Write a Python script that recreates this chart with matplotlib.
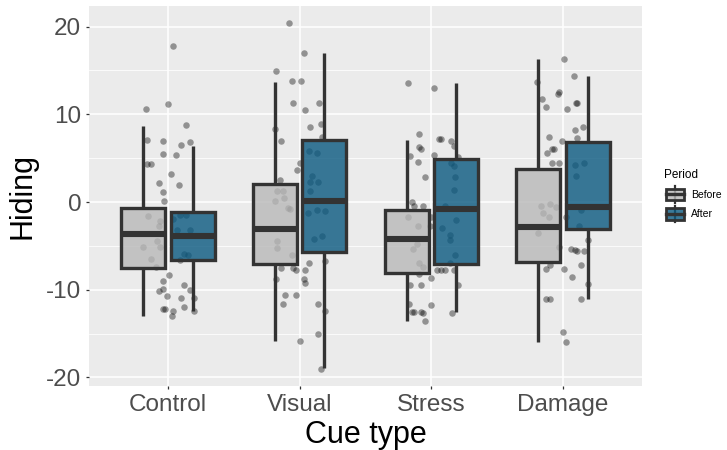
import matplotlib
matplotlib.use("Agg")
import matplotlib.pyplot as plt
import numpy as np
from matplotlib.legend_handler import HandlerBase
from matplotlib.patches import Rectangle, Patch
from matplotlib.lines import Line2D

plt.rcParams["font.family"] = ["Liberation Sans", "DejaVu Sans"]

# box summaries (Hiding score)
cues = ["Control", "Visual", "Stress", "Damage"]
before_lo = [-12.96, -15.8, -13.57, -16.0]
before_q1 = [-7.56, -7.1, -8.06, -6.88]
before_med = [-3.68, -3.04, -4.22, -2.81]
before_q3 = [-0.72, 2.0, -0.91, 3.73]
before_hi = [8.7, 13.65, 7.07, 16.27]
after_lo = [-12.43, -18.97, -12.5, -11.06]
after_q1 = [-6.6, -5.74, -7.1, -3.11]
after_med = [-3.88, 0.11, -0.83, -0.53]
after_q3 = [-1.1, 7.07, 4.87, 6.88]
after_hi = [6.42, 16.95, 13.53, 14.37]

# jittered raw points per cue (value, horizontal jitter as read)
control_y = [17.8, 11.2, 10.6, 8.8, 7.1, 6.9, 6.5, 6.8, 5.5, 5.4, 4.3, 4.3, 3.2, 2.2, 1.9, 1.1, 0.1,
             -1.6, -2.2, -2.7, -1.5, -1.5, -1.9, -3.2, -3.2, -4.4, -5.1, -5.1, -6.5, -5.9, -6.0, -6.6,
             -7.4, -8.3, -9.0, -10.2, -9.9, -10.7, -9.5, -10.0, -10.9, -10.9, -12.2, -12.2, -12.4,
             -13.0, -12.0, -12.4]
control_jit = [0.04, 0.0, -0.17, 0.14, -0.16, -0.04, 0.10, 0.17, -0.04, 0.06, -0.16, -0.13, 0.02, -0.07,
               0.08, -0.04, -0.03, -0.15, -0.06, -0.07, 0.09, 0.14, 0.04, 0.07, 0.17, -0.08, -0.06, -0.19,
               -0.13, 0.12, 0.15, 0.09, -0.09, 0.01, -0.04, -0.07, -0.04, -0.01, 0.12, 0.17, 0.20, 0.10,
               -0.04, -0.02, 0.04, 0.03, 0.12, 0.20]
visual_y = [20.4, 17.0, 14.9, 13.8, 13.8, 11.3, 10.5, 11.3, 8.6, 8.9, 8.3, 6.9, 7.4, 5.8, 5.6, 4.5, 3.6,
            3.0, 2.3, 2.3, 2.5, 1.2, 1.3, 1.3, 0.5, 0.15, -0.7, -0.8, -1.2, -0.9, -1.0, -4.4, -5.2, -6.0,
            -4.2, -3.9, -6.9, -6.7, -7.7, -7.5, -7.5, -7.7, -8.8, -8.8, -9.2, -10.6, -10.6, -11.6, -11.6,
            -12.4, -15.9, -15.0, -19.0]
visual_jit = [-0.08, 0.03, -0.18, -0.06, 0.01, -0.05, 0.04, 0.15, 0.08, 0.16, -0.19, -0.14, 0.17, 0.07,
              0.13, 0.0, -0.02, 0.09, 0.08, 0.14, -0.15, 0.08, -0.17, -0.13, -0.12, -0.19, -0.09, -0.07,
              0.06, 0.13, 0.19, -0.17, -0.17, -0.06, 0.11, 0.17, 0.07, 0.19, -0.03, -0.05, -0.14, 0.04,
              -0.18, 0.03, 0.04, -0.11, -0.03, -0.13, 0.14, 0.19, 0.0, 0.14, 0.16]
stress_y = [13.6, 13.0, 7.8, 7.2, 7.2, 7.0, 6.4, 6.3, 6.0, 5.2, 5.4, 4.6, 5.1, 4.5, 4.1, 2.8, 2.9, 1.4,
            0.0, -0.5, -0.5, -1.7, -0.5, -1.7, -2.7, -2.7, -3.0, -2.1, -3.8, -4.3, -5.4, -4.8, -6.9, -7.4,
            -6.0, -6.9, -7.8, -7.8, -7.8, -7.8, -8.2, -8.7, -9.5, -9.5, -9.5, -11.6, -12.5, -12.5, -12.5,
            -12.7, -11.7, -13.6, -12.6]
stress_jit = [-0.18, 0.02, -0.09, 0.06, 0.07, 0.15, 0.17, -0.09, -0.08, -0.16, 0.02, -0.10, 0.20, 0.15,
              0.17, -0.05, 0.18, 0.17, -0.15, -0.13, -0.06, -0.18, 0.10, 0.0, -0.10, -0.01, 0.08, 0.19,
              0.14, 0.14, -0.14, -0.11, -0.09, -0.06, 0.18, 0.14, 0.04, 0.07, 0.10, 0.17, -0.09, 0.0,
              -0.16, -0.08, 0.20, -0.17, -0.15, -0.13, -0.08, -0.06, 0.0, -0.05, 0.16]
damage_y = [16.3, 14.4, 13.7, 11.7, 12.3, 12.5, 10.8, 10.6, 11.3, 11.3, 8.5, 8.2, 7.3, 7.4, 6.0, 6.1,
            5.6, 6.9, 4.5, 4.5, 4.2, 4.4, 3.0, -0.5, -0.2, -1.3, -1.7, -0.6, -1.7, -0.9, -3.5, -2.7, -4.3,
            -5.1, -5.4, -5.5, -5.6, -5.6, -7.2, -7.6, -7.6, -7.2, -8.5, -9.3, -11.1, -11.1, -11.1, -14.8,
            -16.0]
damage_jit = [0.01, 0.08, -0.20, -0.16, -0.04, -0.03, -0.13, 0.03, 0.10, 0.11, 0.15, 0.09, 0.11, -0.11,
              -0.08, -0.07, -0.12, -0.01, -0.08, -0.03, 0.09, 0.16, 0.10, -0.17, -0.10, -0.15, -0.11,
              -0.05, 0.02, 0.14, -0.19, 0.12, 0.19, -0.03, 0.06, 0.09, 0.11, 0.16, -0.10, -0.13, 0.01,
              0.14, 0.07, 0.19, -0.13, -0.10, 0.14, 0.0, 0.02]

points_y = [control_y, visual_y, stress_y, damage_y]
points_jit = [control_jit, visual_jit, stress_jit, damage_jit]

periods = ["Before", "After"]
fills = [(0.72, 0.72, 0.72, 0.8), (0.04, 0.35, 0.50, 0.8)]
edge = "#333333"

fig = plt.figure(figsize=(7.27, 4.5), dpi=100)
ax = fig.add_axes([89 / 727, 64 / 450, 553 / 727, 380 / 450])
ax.set_facecolor("#EBEBEB")
for s in ax.spines.values():
    s.set_visible(False)

x = np.arange(1, len(cues) + 1)

# jittered points under the boxes
for i in range(len(cues)):
    ax.scatter(x[i] + np.array(points_jit[i]), points_y[i], s=22, color="black",
               alpha=0.38, linewidths=0, zorder=2)

groups = [(before_lo, before_q1, before_med, before_q3, before_hi),
          (after_lo, after_q1, after_med, after_q3, after_hi)]
offsets = [-0.1875, 0.1875]
for g, (lo, q1, med, q3, hi) in enumerate(groups):
    stats = [dict(whislo=lo[i], q1=q1[i], med=med[i], q3=q3[i], whishi=hi[i]) for i in range(len(cues))]
    ax.bxp(stats, positions=x + offsets[g], widths=0.335, patch_artist=True, showfliers=False,
           showcaps=False, manage_ticks=False, zorder=3,
           boxprops=dict(facecolor=fills[g], edgecolor=edge, linewidth=2.4),
           whiskerprops=dict(color=edge, linewidth=2.4, solid_capstyle="butt"),
           medianprops=dict(color=edge, linewidth=4.4, solid_capstyle="butt"))

ax.set_xlim(0.4, 4.6)
ax.set_ylim(-20.98, 22.35)
ax.set_xticks(x)
ax.set_xticklabels(cues)
yt = [-20, -10, 0, 10, 20]
ax.set_yticks(yt)
ax.set_yticklabels([str(v) for v in yt])
ax.set_yticks([-15, -5, 5, 15], minor=True)
ax.grid(True, which="major", color="white", linewidth=1.1, zorder=0)
ax.grid(True, which="minor", axis="y", color="white", linewidth=0.55, zorder=0)
ax.set_axisbelow(True)
ax.tick_params(axis="both", which="major", length=2.5, width=0.9, color="#333333",
               labelsize=17.5, labelcolor="#4D4D4D", pad=3)
ax.tick_params(axis="both", which="minor", length=0)
ax.set_xlabel("Cue type", fontsize=22, labelpad=3)
ax.set_ylabel("Hiding", fontsize=22, labelpad=6)


class BoxKey(HandlerBase):
    def create_artists(self, legend, orig, xd, yd, w, h, fontsize, trans):
        x0, y0 = -xd, -yd
        cx = x0 + w / 2
        whisk = Line2D([cx, cx], [y0 - 0.12 * h, y0 + 1.12 * h], color=edge, lw=1.6, transform=trans)
        box = Rectangle((x0 + 0.08 * w, y0 + 0.08 * h), 0.84 * w, 0.84 * h, facecolor=orig.get_facecolor(),
                        edgecolor=edge, lw=2.0, transform=trans)
        med = Line2D([x0 + 0.08 * w, x0 + 0.92 * w], [y0 + h / 2, y0 + h / 2], color=edge, lw=2.4,
                     transform=trans)
        return [whisk, box, med]


handles = [Patch(facecolor=fills[k], label=periods[k]) for k in range(2)]
leg = fig.legend(handles=handles, title="Period", loc="center left",
                 bbox_to_anchor=(655 / 727, 1 - 195 / 450), frameon=False, fontsize=7.5,
                 title_fontsize=8.5, handler_map={Patch: BoxKey()}, handlelength=2.0,
                 handleheight=1.6, handletextpad=0.6, labelspacing=0.6)
leg._legend_box.align = "left"

fig.savefig("out.png", dpi=100)
